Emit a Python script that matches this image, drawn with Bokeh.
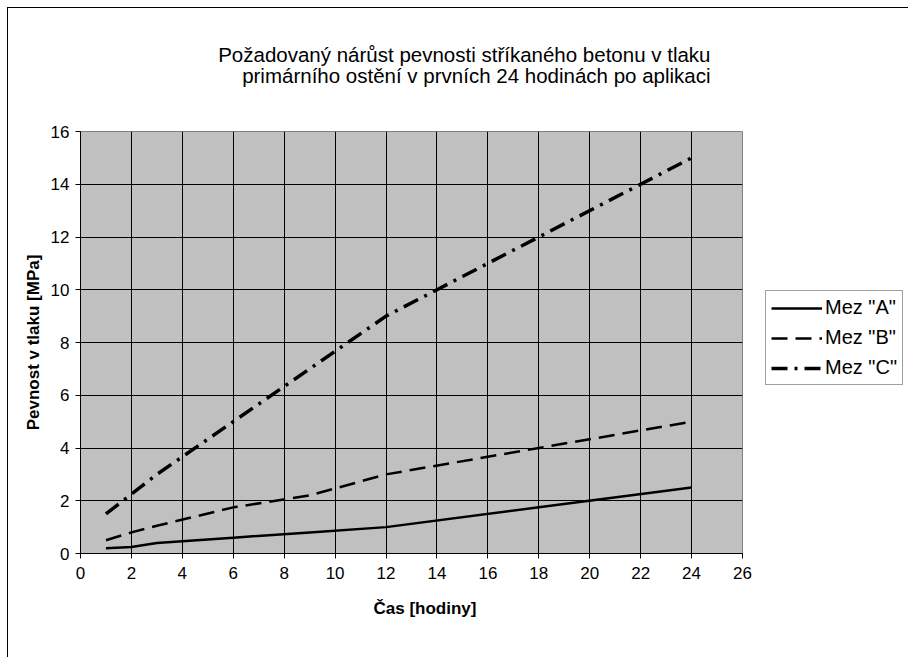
from bokeh.plotting import figure
from bokeh.models import Range1d, SingleIntervalTicker, Legend, LegendItem, Title
from bokeh.embed import file_html
from bokeh.resources import INLINE

# ---- data ----
hours = [1, 2, 3, 6, 9, 12, 18, 24]
mez_a = [0.2, 0.25, 0.4, 0.6, 0.8, 1.0, 1.75, 2.5]
mez_b = [0.5, 0.8, 1.05, 1.75, 2.2, 3.0, 4.0, 5.0]
mez_c = [1.5, 2.25, 3.0, 5.0, 7.0, 9.0, 12.0, 15.0]
series_names = ['Mez "A"', 'Mez "B"', 'Mez "C"']
title_lines = ["Požadovaný nárůst pevnosti stříkaného betonu v tlaku",
               "primárního ostění v prvních 24 hodinách po aplikaci"]
x_label = "Čas [hodiny]"
y_label = "Pevnost v tlaku [MPa]"

FONT = "Liberation Sans"
TITLE_SIZE = "20.5px"

p = figure(
    frame_width=662, frame_height=422,
    min_border_left=72, min_border_right=160,
    min_border_top=123, min_border_bottom=104,
    x_range=Range1d(0, 26), y_range=Range1d(0, 16),
    output_backend="svg", toolbar_location=None,
    background_fill_color="#C0C0C0", border_fill_color="white",
    title=None,
)
p.styles = {"border-left": "1px solid black", "border-top": "1px solid black",
            "margin-left": "7px", "margin-top": "7px"}
p.outline_line_color = "#808080"
p.outline_line_width = 1

for ax in (p.xaxis, p.yaxis):
    ax.axis_line_color = "black"
    ax.axis_line_width = 1
    ax.major_tick_out = 5
    ax.major_tick_in = 0
    ax.minor_tick_line_color = None
    ax.major_tick_line_color = "black"
    ax.major_label_text_font = FONT
    ax.major_label_text_font_size = "17px"
    ax.major_label_text_color = "black"
    ax.axis_label_text_font = FONT
    ax.axis_label_text_font_size = "17px"
    ax.axis_label_text_font_style = "bold"
    ax.axis_label_text_color = "black"

p.xaxis.ticker = SingleIntervalTicker(interval=2)
p.yaxis.ticker = SingleIntervalTicker(interval=2)
p.yaxis.axis_label = y_label
p.xaxis.major_label_standoff = 8
p.yaxis.major_label_standoff = 6
p.yaxis.axis_label_standoff = 5

# x-axis title sits a little right of the frame centre, as in the reference
p.add_layout(Title(text=x_label, align="left", offset=293, standoff=30,
                   text_font=FONT, text_font_size="17px", text_font_style="bold",
                   text_color="black"), "below")

p.xgrid.ticker = SingleIntervalTicker(interval=2)
p.ygrid.ticker = SingleIntervalTicker(interval=2)
p.grid.grid_line_color = "black"
p.grid.grid_line_width = 1
p.grid.grid_line_alpha = 1.0

ra = p.line(hours, mez_a, line_color="black", line_width=2.5)
rb = p.line(hours, mez_b, line_color="black", line_width=2.5, line_dash="16 8")
rc = p.line(hours, mez_c, line_color="black", line_width=3.5, line_dash="16 7 3 7")

legend = Legend(
    items=[LegendItem(label=series_names[0], renderers=[ra]),
           LegendItem(label=series_names[1], renderers=[rb]),
           LegendItem(label=series_names[2], renderers=[rc])],
    location=(23, 168),
    label_text_font=FONT, label_text_font_size="20px", label_text_color="black",
    glyph_width=51, glyph_height=20, label_height=20, label_standoff=3,
    spacing=7, padding=5, margin=0,
    border_line_color="#404040", border_line_width=1,
    background_fill_color="white", background_fill_alpha=1,
)
p.add_layout(legend, "right")

# spacer nearest the frame, then the second title line, then the first
p.add_layout(Title(text=" ", standoff=20, text_font=FONT, text_font_size=TITLE_SIZE), "above")
p.add_layout(Title(text=title_lines[1], align="right", offset=32, standoff=0,
                   text_font=FONT, text_font_size=TITLE_SIZE, text_font_style="normal",
                   text_color="black"), "above")
p.add_layout(Title(text=title_lines[0], align="right", offset=32, standoff=-8,
                   text_font=FONT, text_font_size=TITLE_SIZE, text_font_style="normal",
                   text_color="black"), "above")

open("out.html", "w").write(file_html(p, INLINE))
